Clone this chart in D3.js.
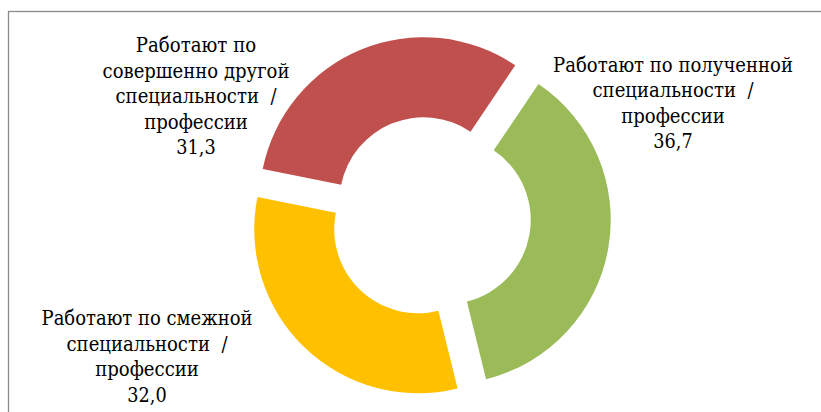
<!DOCTYPE html>
<html>
<head>
<meta charset="utf-8">
<script src="https://cdn.jsdelivr.net/npm/d3@7"></script>
<style>
  body { margin: 0; background: #fff; }
</style>
</head>
<body>
<script>
let width = 821;
let height = 412;

// chart values, clockwise from the first slice
let categories = [
  "Работают по полученной специальности / профессии",
  "Работают по смежной специальности / профессии",
  "Работают по совершенно другой специальности / профессии"
];
let values = [36.7, 32.0, 31.3];
let colors = ["#9BBB59", "#FFC000", "#C0504D"];
// how each label is broken into lines
let labelLines = [
  ["Работают по полученной", "специальности  /", "профессии"],
  ["Работают по смежной", "специальности  /", "профессии"],
  ["Работают по", "совершенно другой", "специальности  /", "профессии"]
];

// layout
let cx = 430, cy = 217;
let outerR = 164, innerR = 84;
let explode = 17;
let firstAngle = 34 * Math.PI / 180;
let lineH = 25.5;
// label block centre x / first baseline y
let labelPos = [[673, 71.5], [147, 325], [196, 52]];

let fmt = (v) => d3.format(".1f")(v).replace(".", ",");

let svg = d3.select("body").append("svg")
  .attr("width", width)
  .attr("height", height);

// chart frame (runs past the right and bottom edge)
svg.append("rect")
  .attr("x", 8.5).attr("y", 11.5)
  .attr("width", 900).attr("height", 500)
  .attr("fill", "none")
  .attr("stroke", "#8a8a8a")
  .attr("stroke-width", 1.3);

let pie = d3.pie().sort(null)
  .startAngle(firstAngle)
  .endAngle(firstAngle + 2 * Math.PI);
let arc = d3.arc().innerRadius(innerR).outerRadius(outerR);

let slices = pie(values);

let g = svg.append("g").attr("transform", `translate(${cx},${cy})`);

g.selectAll(".slice").data(slices).enter().append("path")
  .attr("class", "slice")
  .attr("d", arc)
  .attr("fill", (d, i) => colors[i])
  .attr("transform", (d) => {
    let mid = (d.startAngle + d.endAngle) / 2;
    return `translate(${Math.sin(mid) * explode},${-Math.cos(mid) * explode})`;
  });

// each label line: measured in a Times-metric font, then drawn in
// DejaVu Serif (serif cyrillic) and squeezed to the same width
let lineData = [];
slices.forEach((d, i) => {
  labelLines[i].concat([fmt(d.data)]).forEach((ln, k) => {
    lineData.push({text: ln, x: labelPos[i][0], y: labelPos[i][1] + k * lineH});
  });
});

let lineText = svg.selectAll(".label").data(lineData).enter().append("text")
  .attr("class", "label")
  .attr("text-anchor", "middle")
  .attr("font-family", "'Times New Roman', serif")
  .attr("font-size", "22.5px")
  .attr("fill", "#000")
  .style("white-space", "pre")
  .text((d) => d.text);

lineText.each(function (d) { d.w0 = this.getComputedTextLength(); });
lineText.attr("font-family", "'DejaVu Serif', serif").attr("font-size", "20.4px");
lineText.each(function (d) { d.w1 = this.getComputedTextLength(); });
lineText.attr("transform", (d) => `translate(${d.x},${d.y}) scale(${d.w1 ? d.w0 / d.w1 : 1},1)`);
</script>
</body>
</html>
